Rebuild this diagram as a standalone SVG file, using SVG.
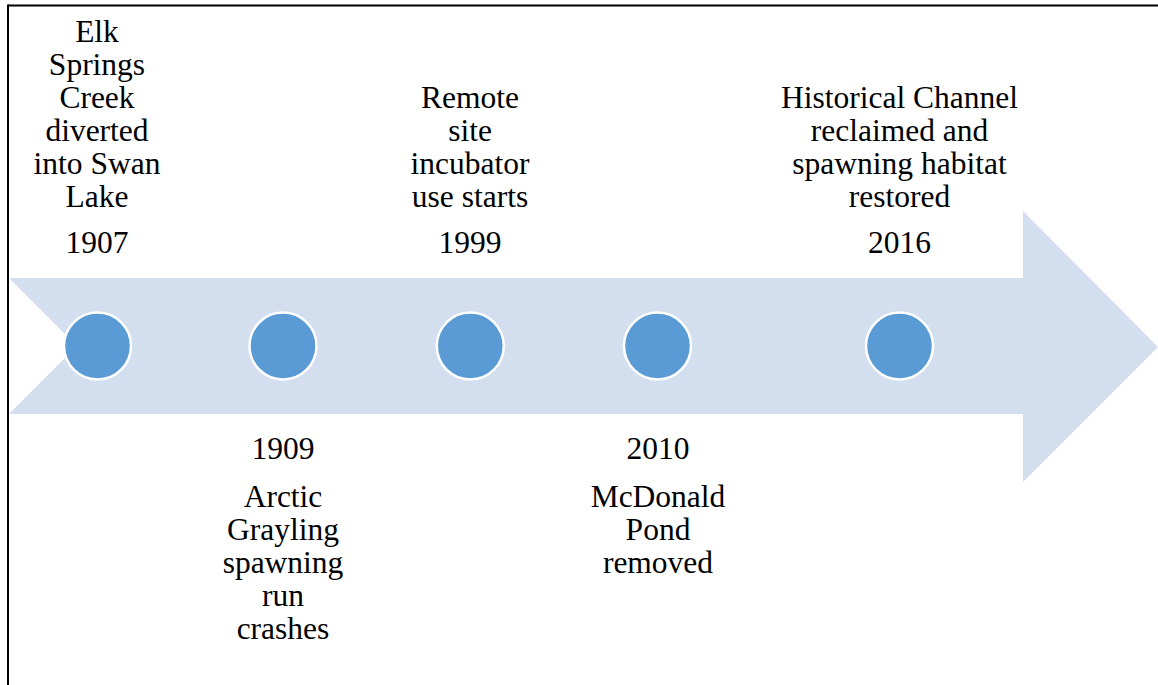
<svg xmlns="http://www.w3.org/2000/svg" width="1158" height="685" viewBox="0 0 1158 685">
<style>
.t{font-family:"Liberation Serif","Times New Roman",serif;font-size:31.5px;fill:#000;text-anchor:middle}
.dot{fill:#5B9BD5;stroke:#fff;stroke-width:2.5}
.frame{stroke:#000;stroke-width:2;fill:none}
</style>
<rect width="1158" height="685" fill="#fff"/>
<g id="frame">
<line class="frame" x1="8" y1="5.5" x2="1158" y2="5.5"/>
<line class="frame" x1="8" y1="4.5" x2="8" y2="685"/>
</g>
<g id="connectors">
<polygon id="timeline-arrow" points="9,278 1023,278 1023,211 1158,347 1023,482 1023,414 9,414 77,346" fill="#D3DEEF"/>
</g>
<g id="n1907">
<circle class="dot" cx="97.5" cy="346" r="33.5"/>
<text class="t" x="97"><tspan x="97" y="41.5">Elk</tspan><tspan x="97" y="74.5">Springs</tspan><tspan x="97" y="107.5">Creek</tspan><tspan x="97" y="140.5">diverted</tspan><tspan x="97" y="173.5">into Swan</tspan><tspan x="97" y="206.5">Lake</tspan></text>
<text class="t" x="97" y="253">1907</text>
</g>
<g id="n1909">
<circle class="dot" cx="283" cy="346" r="33.5"/>
<text class="t" x="283" y="459">1909</text>
<text class="t"><tspan x="283" y="506.5">Arctic</tspan><tspan x="283" y="539.5">Grayling</tspan><tspan x="283" y="572.5">spawning</tspan><tspan x="283" y="605.5">run</tspan><tspan x="283" y="638.5">crashes</tspan></text>
</g>
<g id="n1999">
<circle class="dot" cx="470.3" cy="346" r="33.5"/>
<text class="t"><tspan x="470" y="107.5">Remote</tspan><tspan x="470" y="140.5">site</tspan><tspan x="470" y="173.5">incubator</tspan><tspan x="470" y="206.5">use starts</tspan></text>
<text class="t" x="470" y="253">1999</text>
</g>
<g id="n2010">
<circle class="dot" cx="657.5" cy="346" r="33.5"/>
<text class="t" x="658" y="459">2010</text>
<text class="t"><tspan x="658" y="506.5">McDonald</tspan><tspan x="658" y="539.5">Pond</tspan><tspan x="658" y="572.5">removed</tspan></text>
</g>
<g id="n2016">
<circle class="dot" cx="899.5" cy="346" r="33.5"/>
<text class="t"><tspan x="899.5" y="107.5">Historical Channel</tspan><tspan x="899.5" y="140.5">reclaimed and</tspan><tspan x="899.5" y="173.5">spawning habitat</tspan><tspan x="899.5" y="206.5">restored</tspan></text>
<text class="t" x="899.5" y="253">2016</text>
</g>
</svg>
